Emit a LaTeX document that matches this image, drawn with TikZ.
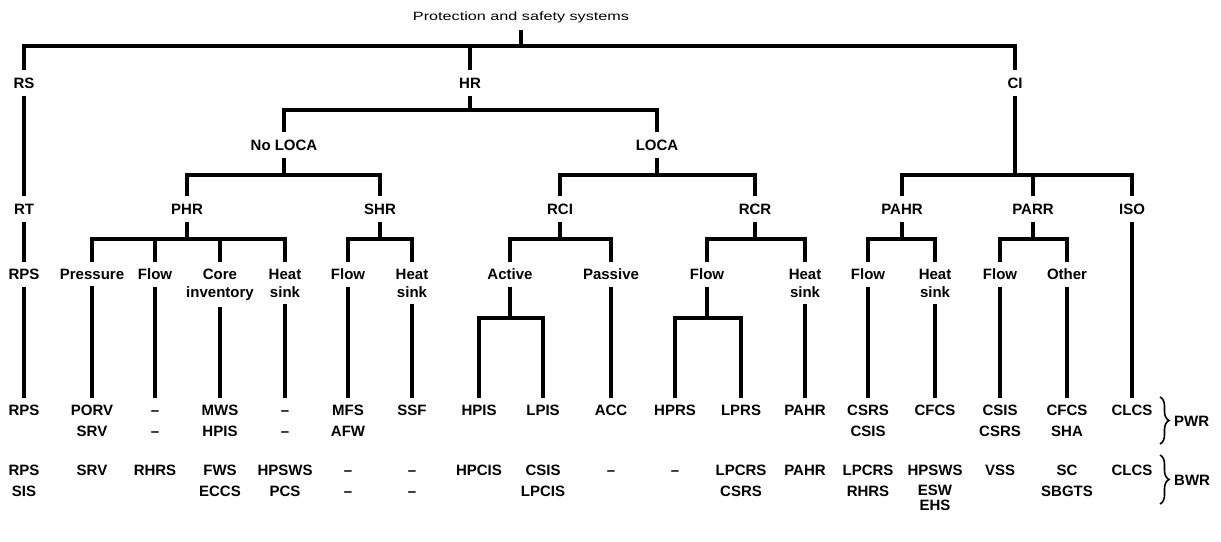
\documentclass[tikz,border=0pt]{standalone}
\usepackage{fontspec}
\setmainfont{Liberation Sans}
\newfontfamily\titlefont[FakeStretch=1.35]{Liberation Sans}
\usetikzlibrary{decorations.pathreplacing}
\newcommand\dsh{\vphantom{H}--}
\tikzset{
  lbl/.style={font=\fontsize{15}{18}\selectfont\bfseries, inner xsep=1pt, inner ysep=7pt, text height=11pt, text depth=0pt},
  sub/.style={font=\fontsize{15}{18}\selectfont\bfseries, inner xsep=1pt, inner ysep=7pt, align=center, anchor=north},
  leaf/.style={font=\fontsize{15}{21}\selectfont\bfseries, inner xsep=1pt, inner ysep=7pt, align=center, anchor=north},
  ttl/.style={font=\titlefont\fontsize{12}{14}\selectfont, inner sep=7pt},
  bar/.style={line width=3.6pt},
  brc/.style={line width=1.6pt, decorate, decoration={brace, amplitude=9pt}},
}
\begin{document}
\begin{tikzpicture}[x=1pt, y=1pt, yscale=-1]
  \useasboundingbox (0,0) rectangle (1221,541);
  \node[ttl] (title) at (521,17) {Protection and safety systems};
  \node[lbl] (rs) at (24,83) {RS};
  \node[lbl] (hr) at (470,83) {HR};
  \node[lbl] (ci) at (1015,83) {CI};
  \node[lbl] (noloca) at (284,145) {No LOCA};
  \node[lbl] (loca) at (657,145) {LOCA};
  \foreach \x/\n/\t in {24/rt/RT, 187/phr/PHR, 380/shr/SHR, 560/rci/RCI,
                        755/rcr/RCR, 902/pahr/PAHR, 1033/parr/PARR, 1132/iso/ISO}{
    \node[lbl] (\n) at (\x,209) {\t};
  }
  \foreach \x/\n/\t in {24/rps/RPS, 92/pres/Pressure, 155/flowp/Flow, 220/core/{Core\\inventory},
                        285/heatp/{Heat\\sink}, 348/flows/Flow, 412/heats/{Heat\\sink},
                        510/active/Active, 611/passive/Passive, 707/flowr/Flow, 805/heatr/{Heat\\sink},
                        868/flowa/Flow, 935/heata/{Heat\\sink}, 1000/flowo/Flow, 1067/other/Other}{
    \node[sub] (\n) at (\x,261.5) {\t};
  }
  \foreach \x/\pw/\bw [count=\i] in {24/RPS/{RPS\\SIS}, 92/{PORV\\SRV}/SRV, 155/{\dsh\\\dsh}/RHRS,
        220/{MWS\\HPIS}/{FWS\\ECCS}, 285/{\dsh\\\dsh}/{HPSWS\\PCS}, 348/{MFS\\AFW}/{\dsh\\\dsh},
        412/SSF/{\dsh\\\dsh}, 479/HPIS/HPCIS, 543/LPIS/{CSIS\\LPCIS}, 611/ACC/\dsh, 675/HPRS/\dsh,
        741/LPRS/{LPCRS\\CSRS}, 805/PAHR/PAHR, 868/{CSRS\\CSIS}/{LPCRS\\RHRS},
        935/CFCS/{HPSWS\\[-1pt]ESW\\[-6pt]EHS}, 1000/{CSIS\\CSRS}/VSS,
        1067/{CFCS\\SHA}/{SC\\SBGTS}, 1132/CLCS/CLCS}{
    \node[leaf] (l\i) at (\x,397.5) {\pw};
    \node[leaf] (b\i) at (\x,457.5) {\bw};
  }
  \node[lbl, anchor=west, inner xsep=0pt] (pwr) at (1174,421) {PWR};
  \node[lbl, anchor=west, inner xsep=0pt] (bwr) at (1174,480) {BWR};
  \coordinate (pwrtop) at (1160,397);
  \coordinate (pwrbot) at (1160,444);
  \coordinate (bwrtop) at (1160,455);
  \coordinate (bwrbot) at (1160,504);
  \draw[brc] (pwrtop) -- (pwrbot);
  \draw[brc] (bwrtop) -- (bwrbot);

  \coordinate (topbar) at (521,46);
  \draw[bar] (rs.north) |- (topbar) -| (ci.north);
  \draw[bar] (title.south) -- (topbar);
  \draw[bar] (hr.north) -- (hr.north |- topbar);
  \coordinate (hrbar) at (470,110);
  \draw[bar] (noloca.north) |- (hrbar) -| (loca.north);
  \draw[bar] (hr.south) -- (hrbar);
  \coordinate (nlbar) at (284,175);
  \draw[bar] (phr.north) |- (nlbar) -| (shr.north);
  \draw[bar] (noloca.south) -- (nlbar);
  \coordinate (lobar) at (657,175);
  \draw[bar] (rci.north) |- (lobar) -| (rcr.north);
  \draw[bar] (loca.south) -- (lobar);
  \coordinate (cibar) at (1015,175);
  \draw[bar] (pahr.north) |- (cibar) -| (iso.north);
  \draw[bar] (ci.south) -- (cibar);
  \draw[bar] (parr.north) -- (parr.north |- cibar);
  \draw[bar] (rs.south) -- (rt.north);

  \coordinate (phrbar) at (187,239);
  \draw[bar] (pres.north) |- (phrbar) -| (heatp.north);
  \draw[bar] (phr.south) -- (phrbar);
  \draw[bar] (flowp.north) -- (flowp.north |- phrbar);
  \draw[bar] (core.north) -- (core.north |- phrbar);
  \coordinate (shrbar) at (380,239);
  \draw[bar] (flows.north) |- (shrbar) -| (heats.north);
  \draw[bar] (shr.south) -- (shrbar);
  \coordinate (rcibar) at (560,239);
  \draw[bar] (active.north) |- (rcibar) -| (passive.north);
  \draw[bar] (rci.south) -- (rcibar);
  \coordinate (rcrbar) at (755,239);
  \draw[bar] (flowr.north) |- (rcrbar) -| (heatr.north);
  \draw[bar] (rcr.south) -- (rcrbar);
  \coordinate (pahrbar) at (902,239);
  \draw[bar] (flowa.north) |- (pahrbar) -| (heata.north);
  \draw[bar] (pahr.south) -- (pahrbar);
  \coordinate (parrbar) at (1033,239);
  \draw[bar] (flowo.north) |- (parrbar) -| (other.north);
  \draw[bar] (parr.south) -- (parrbar);
  \draw[bar] (rt.south) -- (rps.north);
  \draw[bar] (iso.south) -- (l18.north);

  \coordinate (actbar) at (510,318);
  \draw[bar] (l8.north) |- (actbar) -| (l9.north);
  \draw[bar] (active.south) -- (actbar);
  \coordinate (flrbar) at (707,318);
  \draw[bar] (l11.north) |- (flrbar) -| (l12.north);
  \draw[bar] (flowr.south) -- (flrbar);

  \draw[bar] (rps.south) -- (l1.north);
  \draw[bar] (pres.south) -- (l2.north);
  \draw[bar] (flowp.south) -- (l3.north);
  \draw[bar] (core.south) -- (l4.north);
  \draw[bar] (heatp.south) -- (l5.north);
  \draw[bar] (flows.south) -- (l6.north);
  \draw[bar] (heats.south) -- (l7.north);
  \draw[bar] (passive.south) -- (l10.north);
  \draw[bar] (heatr.south) -- (l13.north);
  \draw[bar] (flowa.south) -- (l14.north);
  \draw[bar] (heata.south) -- (l15.north);
  \draw[bar] (flowo.south) -- (l16.north);
  \draw[bar] (other.south) -- (l17.north);
\end{tikzpicture}
\end{document}
